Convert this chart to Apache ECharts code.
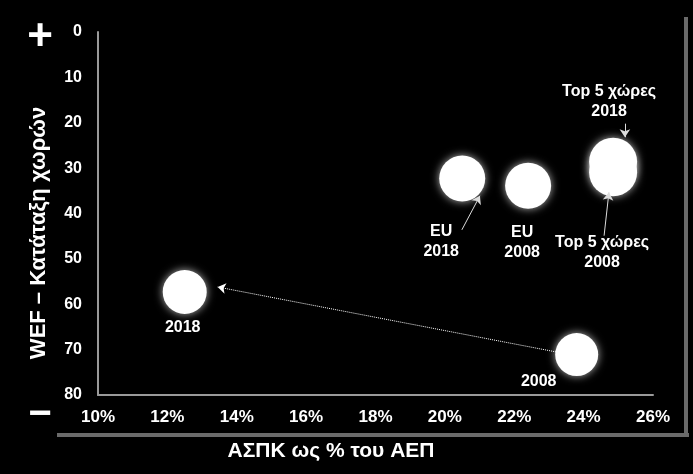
<!DOCTYPE html>
<html>
<head>
<meta charset="utf-8">
<script src="https://cdn.jsdelivr.net/npm/echarts@6/dist/echarts.min.js"></script>
<style>
html,body{margin:0;padding:0;background:#000;}
#c{width:693px;height:474px;}
</style>
</head>
<body>
<div id="c"></div>
<script>
// ---- data ----
const pointNames = ['Greece 2018', 'Greece 2008', 'EU 2018', 'EU 2008', 'Top5 2018', 'Top5 2008'];
const gdpShare = [12.5, 23.8, 20.5, 22.4, 24.85, 24.85];   // ΑΣΠΚ ως % του ΑΕΠ
const wefRank  = [57.3, 71.1, 32.3, 33.9, 28.6, 30.9];      // WEF ranking
const pointLabels = ['2018', '2008', 'EU\n2018', 'EU\n2008', 'Top 5 χώρες\n2018', 'Top 5 χώρες\n2008'];
const xTicks = ['10%', '12%', '14%', '16%', '18%', '20%', '22%', '24%', '26%'];
const yTicks = ['0', '10', '20', '30', '40', '50', '60', '70', '80'];
// trend arrow (2008 -> 2018) and callout arrows, in data units
const trendArrow = [[23.2, 70.5], [13.45, 56.2]];
const calloutArrows = [
  [[20.49, 43.6], [21.01, 36.1]],
  [[25.19, 20.2], [25.19, 23.2]],
  [[24.59, 44.9], [24.73, 35.3]]
];
const xTitle = 'ΑΣΠΚ ως % του ΑΕΠ';
const yTitle = 'WEF – Κατάταξη χωρών';

// ---- styles ----
const FONT = '"Liberation Sans", Arial, sans-serif';
const sizes = [44, 43, 46, 46, 48, 48];
const labelOffsets = [[-2, 36], [-38, 27], [-21, 63], [-6, 57], [-4, -60], [-11, 80]];

const chart = echarts.init(document.getElementById('c'));
const data = pointNames.map((n, i) => ({
  name: n,
  value: [gdpShare[i], wefRank[i]],
  symbolSize: sizes[i],
  label: {
    show: true,
    formatter: pointLabels[i],
    position: 'inside',
    offset: labelOffsets[i],
    color: '#fff',
    fontFamily: FONT,
    fontWeight: 'bold',
    fontSize: 16,
    lineHeight: 20,
    align: 'center',
    verticalAlign: 'middle'
  }
}));

const arrowLines = [
  [{coord: trendArrow[0]}, {coord: trendArrow[1], lineStyle: {type: 'dotted', width: 1, color: '#fff'}}]
].concat(calloutArrows.map(a => [{coord: a[0]}, {coord: a[1]}]));

chart.setOption({
  backgroundColor: '#000',
  animation: false,
  grid: {left: 98, right: 40, top: 32, bottom: 79},
  xAxis: {
    type: 'value', min: 10, max: 26, interval: 2, position: 'bottom',
    axisLine: {show: true, onZero: false, lineStyle: {color: '#9a9a9a', width: 2}},
    axisTick: {show: false},
    splitLine: {show: false},
    axisLabel: {
      color: '#fff', fontFamily: FONT, fontWeight: 'bold', fontSize: 17, margin: 14,
      formatter: v => xTicks[Math.round((v - 10) / 2)]
    }
  },
  yAxis: {
    type: 'value', min: 0, max: 80, interval: 10, inverse: true,
    axisLine: {show: true, onZero: false, lineStyle: {color: '#9a9a9a', width: 2}},
    axisTick: {show: false},
    splitLine: {show: false},
    axisLabel: {
      color: '#fff', fontFamily: FONT, fontWeight: 'bold', fontSize: 16, margin: 16,
      formatter: v => yTicks[Math.round(v / 10)]
    }
  },
  graphic: [
    {type: 'rect', shape: {x: 57, y: 433, width: 632, height: 4}, style: {fill: '#6a6a6a'}, silent: true},
    {type: 'rect', shape: {x: 684, y: 17, width: 4, height: 420}, style: {fill: '#6a6a6a'}, silent: true},
    {type: 'text', x: 331, y: 451, style: {text: xTitle, fill: '#fff', font: 'bold 21px ' + FONT, textAlign: 'center', textVerticalAlign: 'middle'}},
    {type: 'text', x: 39, y: 233, rotation: Math.PI / 2, style: {text: yTitle, fill: '#fff', font: 'bold 22px ' + FONT, textAlign: 'center', textVerticalAlign: 'middle'}},
    {type: 'text', x: 40, y: 38, style: {text: '+', fill: '#fff', font: 'bold 44px ' + FONT, textAlign: 'center', textVerticalAlign: 'middle'}},
    {type: 'text', x: 40, y: 415, style: {text: '−', fill: '#fff', font: 'bold 40px ' + FONT, textAlign: 'center', textVerticalAlign: 'middle'}}
  ],
  series: [{
    type: 'scatter',
    data: data,
    itemStyle: {color: '#fff', opacity: 1, shadowBlur: 8, shadowColor: 'rgba(255,255,255,0.7)'},
    markLine: {
      silent: true,
      symbol: ['none', 'arrow'],
      symbolSize: [8, 8],
      label: {show: false},
      lineStyle: {color: '#ddd', width: 1, type: 'solid', opacity: 1},
      data: arrowLines
    }
  }]
});
</script>
</body>
</html>
